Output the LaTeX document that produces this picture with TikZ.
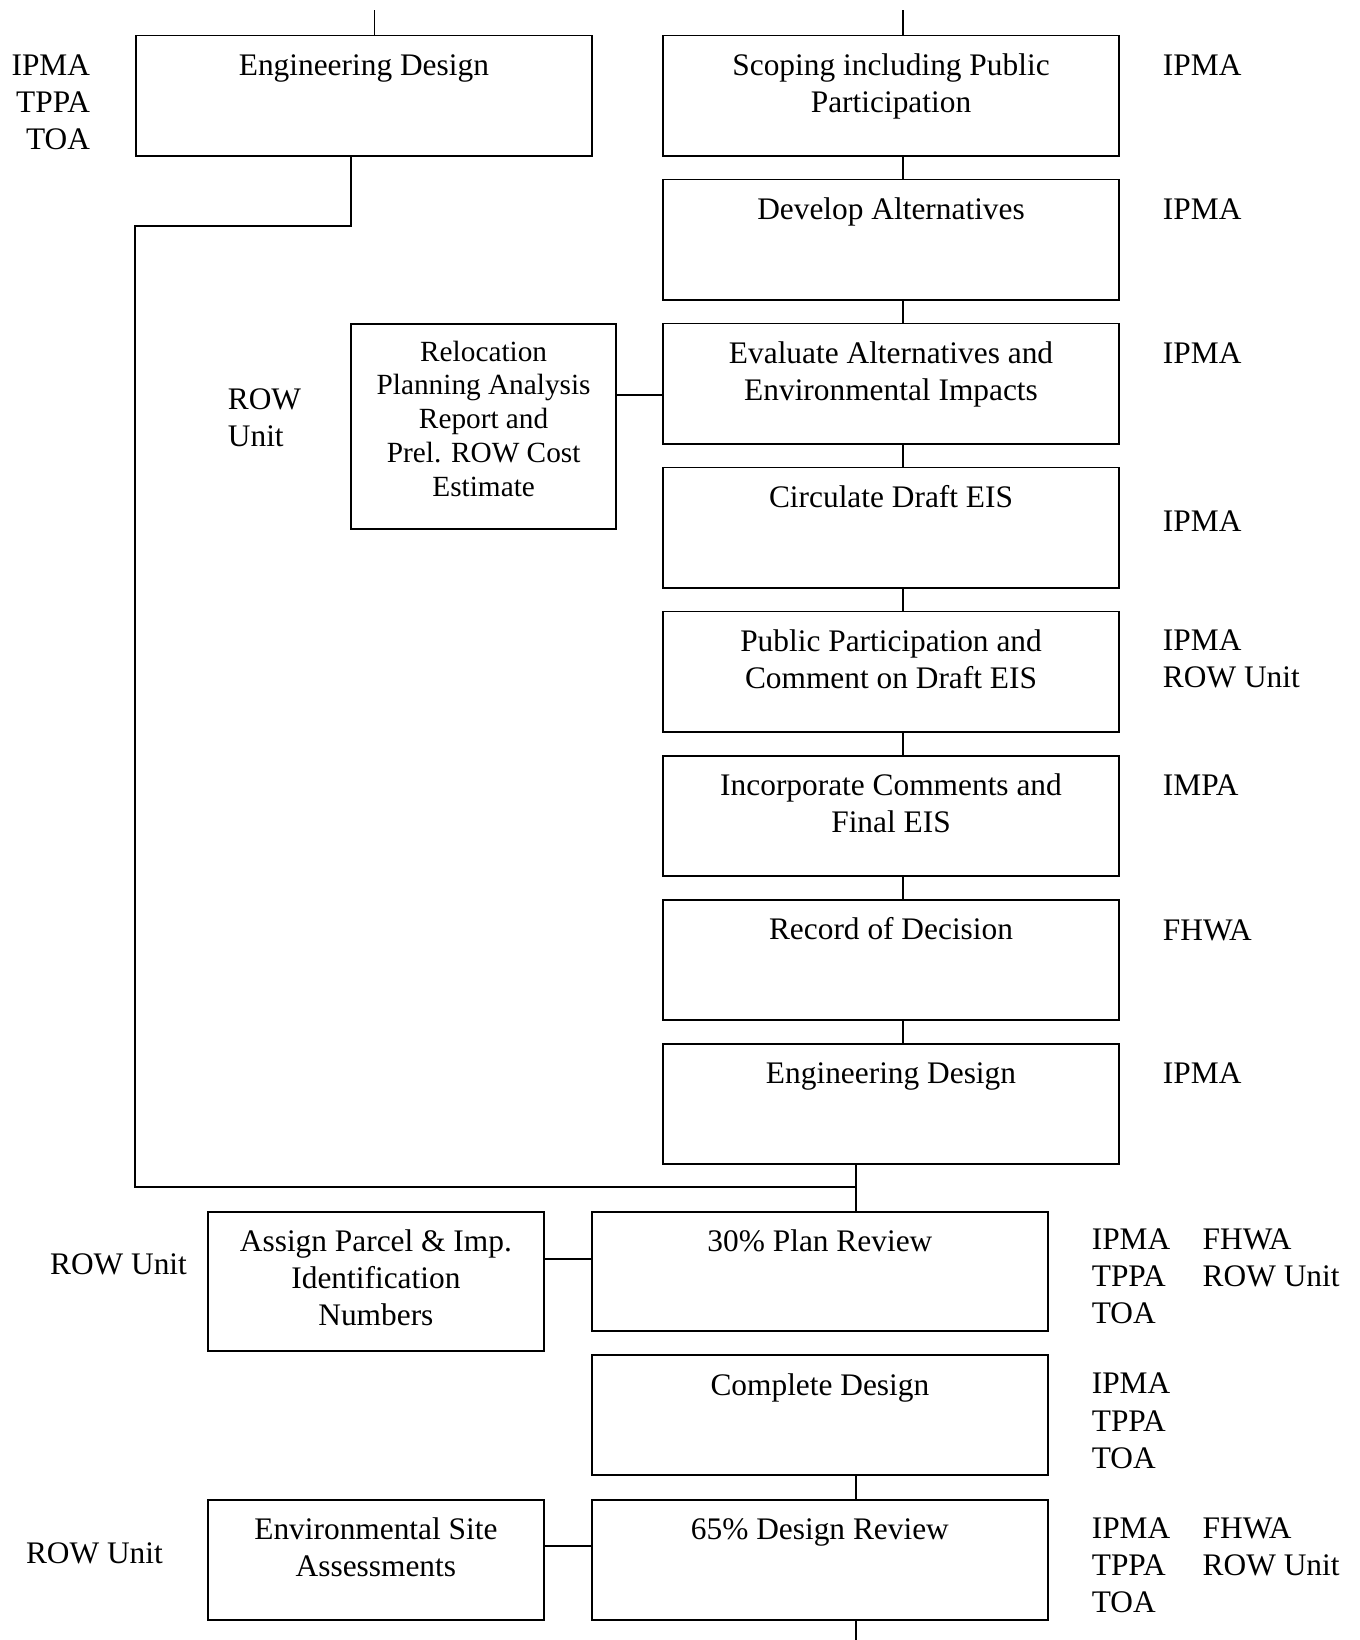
\documentclass[tikz,border=0pt]{standalone}
\usepackage{fontspec}
\setmainfont{Liberation Serif}
\newcommand\bodyfs{\fontsize{30}{35.5}\selectfont}
\newcommand\notefs{\fontsize{28}{32.5}\selectfont}
\begin{document}
\begin{tikzpicture}[x=1pt,y=-1pt,line width=1.8pt,
  box/.style={draw,rectangle,inner sep=0pt,anchor=north west},
  wide/.style={box,minimum width=436pt,minimum height=115pt},
  side/.style={box,minimum width=321pt},
  txt/.style={inner sep=0pt,anchor=north,align=center,font=\bodyfs},
  lbl/.style={inner sep=0pt,anchor=north west,align=left,font=\bodyfs},
  lblr/.style={inner sep=0pt,anchor=north east,align=right,font=\bodyfs},
  link/.style={draw,line width=1.8pt}]
\useasboundingbox (0,0) rectangle (1300,1568);

% ---- left branch head ----
\node[wide] (eng1) at (129,33) {};
\node[txt] (eng1T) at ([yshift=-13pt]eng1.north) {\strut Engineering Design};

% ---- main column ----
\node[wide] (scope) at (633,33) {};
\node[wide] (dev)   at (633,170.7) {};
\node[wide] (eval)  at (633,308.4) {};
\node[wide] (circ)  at (633,446.1) {};
\node[wide] (pub)   at (633,583.8) {};
\node[wide] (inc)   at (633,721.5) {};
\node[wide] (rod)   at (633,859.2) {};
\node[wide] (eng2)  at (633,996.9) {};

\node[txt] (scopeT) at ([yshift=-13pt]scope.north) {\strut Scoping including Public\\Participation};
\node[txt] (devT)   at ([yshift=-13pt]dev.north)   {\strut Develop Alternatives};
\node[txt] (evalT)  at ([yshift=-13pt]eval.north)  {\strut Evaluate Alternatives and\\Environmental Impacts};
\node[txt] (circT)  at ([yshift=-13pt]circ.north)  {\strut Circulate Draft EIS};
\node[txt] (pubT)   at ([yshift=-13pt]pub.north)   {\strut Public Participation and\\Comment on Draft EIS};
\node[txt] (incT)   at ([yshift=-13pt]inc.north)   {\strut Incorporate Comments and\\Final EIS};
\node[txt] (rodT)   at ([yshift=-13pt]rod.north)   {\strut Record of Decision};
\node[txt] (eng2T)  at ([yshift=-13pt]eng2.north)  {\strut Engineering Design};

% ---- relocation report ----
\node[box,minimum width=253pt,minimum height=196pt] (reloc) at (335,309) {};
\node[txt,font=\notefs] (relocT) at ([yshift=-12.5pt]reloc.north)
  {\strut Relocation\\Planning Analysis\\Report and\\Prel. ROW Cost\\Estimate};

% ---- design stage ----
\node[box,minimum width=436pt,minimum height=114pt] (plan30) at (565,1158) {};
\node[box,minimum width=436pt,minimum height=114pt] (compl)  at (565,1295) {};
\node[box,minimum width=436pt,minimum height=115pt] (rev65)  at (565,1433) {};
\node[side,minimum height=133pt] (assign) at (198,1158) {};
\node[side,minimum height=115pt] (esa)    at (198,1433) {};

\node[txt] (plan30T) at ([yshift=-13pt]plan30.north) {\strut 30\% Plan Review};
\node[txt] (complT)  at ([yshift=-13pt]compl.north)  {\strut Complete Design};
\node[txt] (rev65T)  at ([yshift=-13pt]rev65.north)  {\strut 65\% Design Review};
\node[txt] (assignT) at ([yshift=-13pt]assign.north) {\strut Assign Parcel \& Imp.\\Identification\\Numbers};
\node[txt] (esaT)    at ([yshift=-13pt]esa.north)    {\strut Environmental Site\\Assessments};

% ---- responsible parties ----
\node[lblr] (pEng1) at (87,46) {\strut IPMA\\TPPA\\TOA};
\node[lbl] (pReloc) at (217,366) {\strut ROW\\Unit};
\node[lbl] (pScope) at (1111,46)  {\strut IPMA};
\node[lbl] (pDev)   at (1111,184) {\strut IPMA};
\node[lbl] (pEval)  at (1111,322) {\strut IPMA};
\node[lbl] (pCirc)  at (1111,482) {\strut IPMA};
\node[lbl] (pPub)   at (1111,596) {\strut IPMA\\ROW Unit};
\node[lbl] (pInc)   at (1111,735) {\strut IMPA};
\node[lbl] (pRod)   at (1111,873) {\strut FHWA};
\node[lbl] (pEng2)  at (1111,1010) {\strut IPMA};
\node[lbl] (pAssign) at (47,1193) {\strut ROW Unit};
\node[lbl] (pEsa)    at (24,1469) {\strut ROW Unit};
\node[lbl] (pPlanA) at (1043,1169) {\strut IPMA\\TPPA\\TOA};
\node[lbl] (pPlanB) at (1149,1169) {\strut FHWA\\ROW Unit};
\node[lbl] (pCompl) at (1043,1307) {\strut IPMA\\TPPA\\TOA};
\node[lbl] (pRevA)  at (1043,1445) {\strut IPMA\\TPPA\\TOA};
\node[lbl] (pRevB)  at (1149,1445) {\strut FHWA\\ROW Unit};

% ---- connectors ----
\coordinate (inL) at (358,10);
\coordinate (inR) at (863,10);
\coordinate (bend) at (129,216);
\coordinate (join) at (818,1135);
\coordinate (outB) at (818,1568);
\coordinate (relY) at (0,378);
\coordinate (asgY) at (0,1204);
\coordinate (esaY) at (0,1478);

\draw[link] (inL) -- (inL |- eng1.north);
\draw[link] (inR) -- (inR |- scope.north);
\foreach \a/\b in {scope/dev,dev/eval,eval/circ,circ/pub,pub/inc,inc/rod,rod/eng2}
  \draw[link] (\a.south -| inR) -- (\b.north -| inR);
\draw[link] ([xshift=-12pt]eng1.south) |- (bend) |- (join);
\draw[link] (eng2.south -| join) -- (plan30.north -| join);
\draw[link] (compl.south -| join) -- (rev65.north -| join);
\draw[link] (rev65.south -| outB) -- (outB);
\draw[link] (reloc.east |- relY) -- (eval.west |- relY);
\draw[link] (assign.east |- asgY) -- (plan30.west |- asgY);
\draw[link] (esa.east |- esaY) -- (rev65.west |- esaY);
\end{tikzpicture}
\end{document}
